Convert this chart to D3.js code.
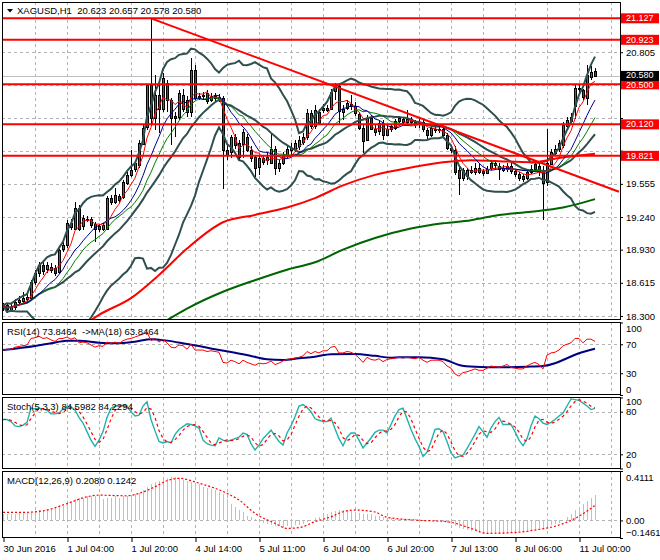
<!DOCTYPE html>
<html>
<head>
<meta charset="utf-8">
<script src="https://cdn.jsdelivr.net/npm/d3@7"></script>
<style>
  body { margin: 0; background: #fff; }
  svg { display: block; font-family: "Liberation Sans", Arial, sans-serif; font-size: 9.5px; }
  text { white-space: pre; }
</style>
</head>
<body>
<svg id="chart" width="660" height="560"></svg>
<script>
// XAGUSD H1, values
const opens = [
  18.37,18.40,18.36,18.38,18.43,18.44,18.46,18.47,18.62,18.70,
  18.78,18.74,18.77,18.76,18.72,18.93,18.97,19.18,19.13,19.33,
  19.15,19.22,19.22,19.17,19.12,19.12,19.13,19.42,19.38,19.44,
  19.43,19.56,19.64,19.69,19.73,19.94,20.09,20.49,20.18,20.40,
  20.27,20.51,20.35,20.20,20.19,20.27,20.35,20.24,20.64,20.37,
  20.39,20.42,20.35,20.39,20.37,20.37,19.88,19.86,20.00,19.94,
  19.94,20.00,19.88,19.81,19.71,19.80,19.78,19.76,19.89,19.70,
  19.75,19.83,19.88,19.88,19.91,19.95,20.00,20.23,20.11,20.24,
  20.26,20.28,20.27,20.43,20.48,20.24,20.27,20.31,20.29,20.22,
  20.09,19.97,20.18,20.08,20.05,20.13,20.02,20.07,20.08,20.15,
  20.17,20.14,20.17,20.14,20.12,20.14,20.07,20.02,20.08,20.07,
  20.08,20.02,19.90,19.88,19.69,19.61,19.63,19.67,19.67,19.71,
  19.68,19.66,19.70,19.75,19.72,19.69,19.69,19.72,19.68,19.65,
  19.63,19.61,19.67,19.74,19.72,19.69,19.57,19.75,19.85,19.88,
  19.92,20.10,20.15,20.30,20.46,20.45,20.37,20.57,20.623
];
const highs = [
  18.42,18.42,18.41,18.46,18.49,18.53,18.52,18.64,18.74,18.81,
  18.81,18.81,18.80,18.78,18.94,19.00,19.21,19.22,19.38,19.35,
  19.26,19.25,19.24,19.19,19.17,19.18,19.44,19.45,19.52,19.46,
  19.59,19.67,19.88,19.78,19.97,20.12,20.50,21.127,20.59,20.49,
  20.61,20.54,20.37,20.24,20.45,20.46,20.39,20.75,20.68,20.42,
  20.43,20.45,20.42,20.42,20.41,20.39,19.92,20.02,20.03,19.97,
  20.08,20.03,19.91,19.83,19.82,19.83,19.85,20.04,19.91,19.78,
  19.86,19.92,19.94,19.97,20.01,20.04,20.27,20.26,20.30,20.27,
  20.31,20.30,20.46,20.51,20.50,20.30,20.35,20.40,20.33,20.24,
  20.11,20.21,20.21,20.11,20.15,20.16,20.10,20.12,20.17,20.20,
  20.19,20.26,20.19,20.16,20.17,20.16,20.09,20.11,20.10,20.10,
  20.10,20.04,19.92,19.91,19.72,19.71,19.71,19.72,19.75,19.75,
  19.70,19.72,19.78,19.78,19.75,19.73,19.75,19.75,19.70,19.67,
  19.65,19.69,19.73,19.77,19.75,19.72,20.08,19.89,19.92,19.97,
  20.14,20.19,20.23,20.50,20.50,20.46,20.68,20.67,20.657
];
const lows = [
  18.35,18.33,18.34,18.36,18.40,18.41,18.43,18.45,18.59,18.67,
  18.69,18.71,18.71,18.68,18.70,18.91,18.95,19.12,19.12,19.11,
  19.12,19.19,19.14,19.00,19.10,19.11,19.12,19.35,19.36,19.37,
  19.41,19.54,19.62,19.67,19.71,19.92,20.07,20.11,20.07,20.04,
  20.24,20.24,19.92,20.00,20.16,20.24,20.19,20.19,20.35,20.35,
  20.35,20.31,20.33,20.34,20.33,19.51,19.78,19.80,19.89,19.78,
  19.80,19.86,19.76,19.62,19.64,19.73,19.73,19.74,19.64,19.67,
  19.73,19.80,19.83,19.86,19.88,19.92,19.97,20.08,20.08,20.11,
  20.23,20.24,20.26,20.35,20.11,20.16,20.26,20.26,20.20,20.07,
  19.85,19.96,20.07,20.01,20.02,19.97,20.01,20.05,20.07,20.13,
  20.12,20.12,20.11,20.09,20.09,20.05,19.97,20.00,20.04,20.04,
  19.99,19.88,19.85,19.64,19.45,19.58,19.59,19.65,19.64,19.65,
  19.63,19.65,19.69,19.70,19.59,19.67,19.67,19.65,19.62,19.58,
  19.57,19.59,19.65,19.67,19.63,19.21,19.53,19.73,19.82,19.86,
  19.90,20.07,20.12,20.17,20.43,20.35,20.30,20.54,20.578
];
const closes = [
  18.40,18.36,18.39,18.43,18.45,18.47,18.48,18.62,18.71,18.78,
  18.72,18.78,18.74,18.71,18.93,18.97,19.18,19.14,19.33,19.13,
  19.23,19.21,19.16,19.12,19.15,19.16,19.42,19.38,19.45,19.40,
  19.57,19.64,19.69,19.75,19.94,20.09,20.49,20.18,20.40,20.27,
  20.56,20.35,20.18,20.18,20.42,20.40,20.24,20.64,20.37,20.39,
  20.40,20.34,20.39,20.37,20.38,19.88,19.83,20.00,19.92,19.81,
  20.05,19.88,19.80,19.71,19.80,19.76,19.81,19.89,19.71,19.75,
  19.83,19.89,19.90,19.94,19.97,20.00,20.23,20.11,20.26,20.14,
  20.28,20.26,20.43,20.48,20.24,20.27,20.32,20.29,20.22,20.09,
  19.97,20.18,20.08,20.05,20.13,20.02,20.08,20.10,20.15,20.18,
  20.14,20.17,20.14,20.12,20.14,20.07,20.02,20.09,20.07,20.08,
  20.02,19.90,19.88,19.67,19.61,19.69,19.69,19.69,19.71,19.67,
  19.66,19.70,19.75,19.73,19.69,19.71,19.72,19.67,19.65,19.61,
  19.60,19.67,19.70,19.69,19.67,19.57,19.75,19.86,19.89,19.94,
  20.11,20.16,20.19,20.47,20.47,20.38,20.59,20.62,20.580
];

const timeLabels = ['30 Jun 2016','1 Jul 04:00','1 Jul 20:00','4 Jul 14:00','5 Jul 11:00',
  '6 Jul 04:00','6 Jul 20:00','7 Jul 13:00','8 Jul 06:00','11 Jul 00:00'];
const priceTicks = [18.300,18.615,18.930,19.240,19.555,19.870,20.180,20.490,20.805];
const levels = [21.127,20.923,20.500,20.120,19.821];
const lastPrice = 20.580;
// trend line anchors as [bar, price]
const trendStart = [37, 21.127];
const trendEnd = [154, 19.48];

// slow MAs - their history is off screen so they're read as points off the chart
const ma100Bars = [22,24,32,39,46,55,63,71,78,85,93,102,110,117,124,132,139,148];
const ma100Vals = [18.26,18.31,18.47,18.69,18.94,19.19,19.26,19.33,19.42,19.54,19.64,19.71,19.76,19.78,19.77,19.76,19.80,19.84];
const ma200Bars = [41,46,55,63,71,78,85,93,102,110,117,124,132,140,148];
const ma200Vals = [18.26,18.37,18.53,18.64,18.74,18.81,18.93,19.04,19.13,19.18,19.21,19.26,19.29,19.33,19.41];

const rsiVals = [
  62,63,63,66,67,68,69,78,79,81,
  78,79,76,74,78,78,80,77,79,72,
  73,72,69,66,68,67,73,71,73,71,
  75,77,78,80,82,84,87,75,78,73,
  77,72,66,65,69,68,63,70,62,62,
  62,60,61,60,59,45,44,48,46,43,
  48,45,43,41,44,43,44,47,42,44,
  47,49,50,51,52,54,60,57,60,58,
  61,61,66,67,58,58,60,59,56,51,
  45,52,49,48,50,46,49,50,51,52,
  51,52,51,50,52,48,45,48,48,48,
  46,40,37,29,26,31,32,34,36,34,
  34,37,40,39,38,40,42,38,37,36,
  36,40,43,45,42,36,55,58,59,62,
  68,70,72,78,78,72,77,77,73.8464
];
const rsiMaBars = [0,8,12,16,19,24,28,33,37,41,46,49,53,58,62,66,70,74,78,82,88,93,97,99,104,110,114,118,124,131,135,138,141,144,148];
const rsiMaVals = [62,67.7,71.4,75,75,72.2,71.4,73.6,76.9,75,70.4,67.7,63.1,58.4,53.9,49.3,48.3,50.7,52.9,56.2,56.6,54,51.5,52,52,49.3,41.5,39,38.3,39,40,43.8,50.7,57.6,63.8464];

const stochK = [
  69,69,66,60,59,61,65,85,84,85,
  84,82,77,77,78,84,87,87,82,72,
  64,52,40,31,40,52,72,85,88,88,
  89,87,80,74,75,88,94,69,53,38,
  36,38,36,48,55,59,63,62,60,57,
  40,35,33,32,43,40,38,40,42,44,
  50,48,35,26,33,42,48,54,46,38,
  33,50,60,73,88,90,86,80,70,68,
  66,66,71,56,42,32,44,50,50,40,
  29,36,43,51,54,54,50,62,74,83,
  85,70,55,42,31,17,23,38,55,56,
  52,38,22,15,17,19,28,38,48,59,
  52,44,57,66,72,62,62,62,52,40,
  32,42,60,74,70,64,62,65,69,74,
  78,88,98,97,96,92,88,83,84.5982
];

const macdHist = [
  0.055,0.055,0.056,0.057,0.058,0.06,0.06,0.065,0.08,0.09,
  0.09,0.095,0.095,0.10,0.11,0.12,0.14,0.16,0.18,0.19,
  0.19,0.20,0.20,0.20,0.19,0.18,0.19,0.19,0.20,0.19,
  0.20,0.20,0.21,0.22,0.23,0.25,0.28,0.30,0.32,0.33,
  0.34,0.35,0.36,0.36,0.35,0.34,0.33,0.32,0.31,0.30,
  0.28,0.27,0.26,0.25,0.24,0.22,0.18,0.14,0.11,0.09,
  0.07,0.04,0.03,0.01,0.0,-0.02,-0.03,-0.04,-0.05,-0.05,
  -0.06,-0.05,-0.05,-0.04,-0.04,-0.03,-0.01,0.0,0.02,0.03,
  0.04,0.05,0.07,0.08,0.09,0.09,0.09,0.08,0.07,0.06,
  0.05,0.05,0.05,0.04,0.04,0.03,0.02,0.02,0.01,0.01,
  0.01,0.01,0.01,0.01,0.01,0.0,0.0,0.0,0.0,0.0,
  -0.01,-0.02,-0.03,-0.05,-0.06,-0.07,-0.08,-0.09,-0.09,-0.10,
  -0.10,-0.11,-0.11,-0.11,-0.11,-0.11,-0.10,-0.10,-0.10,-0.09,
  -0.09,-0.08,-0.08,-0.07,-0.06,-0.06,-0.05,-0.04,-0.03,-0.02,
  0.0,0.03,0.05,0.09,0.11,0.14,0.16,0.19,0.2080
];
const macdSigBars = [0,5,10,16,21,24,31,34,38,41,44,49,56,59,63,68,71,74,78,82,85,88,93,96,103,111,117,121,128,133,139,143,148];
const macdSigVals = [0.067,0.067,0.08,0.14,0.197,0.21,0.205,0.225,0.28,0.33,0.35,0.31,0.225,0.17,0.059,-0.024,-0.066,-0.06,-0.01,0.03,0.072,0.086,0.07,0.026,0.003,-0.01,-0.066,-0.107,-0.10,-0.08,-0.038,0.017,0.1242];

// ---------------------------------------------------------------
const FONT = '"Liberation Sans", Arial, sans-serif';
const GRID = '#b4b4b4';
const BULL = '#1e8c3a';
const TAG_H = 10;
const n = closes.length;

const svg = d3.select('#chart');
svg.append('rect').attr('width', 660).attr('height', 560).attr('fill', '#fff');

// panel boxes (top/bottom in px), right edge is the price axis
const left = 2, right = 620;
const panels = {
  main:  { top: 2,   bottom: 320 },
  rsi:   { top: 322, bottom: 395 },
  stoch: { top: 397, bottom: 469 },
  macd:  { top: 471, bottom: 538 }
};

const x = d3.scaleLinear().domain([0, n - 1]).range([3, 3 + 4 * (n - 1)]);
const yMain = d3.scaleLinear().domain([18.262, 21.282]).range([panels.main.bottom, panels.main.top]);
const yRsi = d3.scaleLinear().domain([0, 100]).range([395, 322.5]);
const yStoch = d3.scaleLinear().domain([0, 100]).range([468.5, 397.5]);
const yMacd = d3.scaleLinear().domain([-0.1461, 0.4111]).range([538, 471]);

// simple moving average, shorter window at the start where history is missing
const sma = (vals, len) => vals.map((v, i) => d3.mean(vals.slice(Math.max(0, i - len + 1), i + 1)));
const bands = (vals, len, k) => vals.map((v, i) => {
  const win = vals.slice(Math.max(0, i - len + 1), i + 1);
  const m = d3.mean(win);
  const sd = Math.sqrt(d3.mean(win, d => (d - m) * (d - m)));
  return { mid: m, up: m + k * sd, lo: m - k * sd };
});

const defs = svg.append('defs');
Object.entries(panels).forEach(([key, p]) => {
  defs.append('clipPath').attr('id', 'clip-' + key)
    .append('rect').attr('x', left).attr('y', p.top).attr('width', right - left).attr('height', p.bottom - p.top);
});

const panelG = key => svg.append('g').attr('clip-path', 'url(#clip-' + key + ')');

// vertical grid every 8 bars, same in every panel
const gridBars = d3.range(8, 153, 8);
const drawGrid = (g, p, yScale, hVals) => {
  g.selectAll('line.vg').data(gridBars).enter().append('line')
    .attr('class', 'vg')
    .attr('x1', d => x(d) + 0.5).attr('x2', d => x(d) + 0.5)
    .attr('y1', p.top).attr('y2', p.bottom)
    .attr('stroke', GRID).attr('stroke-dasharray', '3,3').attr('shape-rendering', 'crispEdges');
  g.selectAll('line.hg').data(hVals).enter().append('line')
    .attr('class', 'hg')
    .attr('x1', left).attr('x2', right)
    .attr('y1', d => Math.round(yScale(d)) + 0.5).attr('y2', d => Math.round(yScale(d)) + 0.5)
    .attr('stroke', GRID).attr('stroke-dasharray', '3,3').attr('shape-rendering', 'crispEdges');
};

const lineOf = yScale => d3.line().x((d, i) => x(i)).y(d => yScale(d));
const curveOf = yScale => d3.line().x(d => x(d[0])).y(d => yScale(d[1])).curve(d3.curveMonotoneX);

// ---------------- main panel ----------------
const mainG = panelG('main');
drawGrid(mainG, panels.main, yMain, priceTicks);

mainG.append('line')
  .attr('x1', left).attr('x2', right)
  .attr('y1', Math.round(yMain(lastPrice)) + 0.5).attr('y2', Math.round(yMain(lastPrice)) + 0.5)
  .attr('stroke', '#c0c0c0').attr('shape-rendering', 'crispEdges');

const drawCandles = (g) => {
  const bar = g.selectAll('g.candle').data(d3.range(n)).enter().append('g').attr('class', 'candle');
  bar.append('line')
    .attr('x1', i => x(i) + 0.5).attr('x2', i => x(i) + 0.5)
    .attr('y1', i => yMain(highs[i])).attr('y2', i => yMain(lows[i]))
    .attr('stroke', '#000').attr('shape-rendering', 'crispEdges');
  bar.append('rect')
    .attr('x', i => x(i) - 0.5)
    .attr('y', i => Math.round(yMain(Math.max(opens[i], closes[i]))) + 0.5)
    .attr('width', 2)
    .attr('height', i => Math.max(1, Math.round(Math.abs(yMain(opens[i]) - yMain(closes[i])))))
    .attr('fill', i => closes[i] >= opens[i] ? BULL : '#ff0000')
    .attr('stroke', '#000').attr('stroke-width', 1)
    .attr('shape-rendering', 'crispEdges');
};
drawCandles(mainG);

// bollinger 20/2
const bb = bands(closes, 20, 2);
['up', 'mid', 'lo'].forEach(k => {
  mainG.append('path').datum(bb.map(d => d[k]))
    .attr('d', lineOf(yMain)).attr('fill', 'none')
    .attr('stroke', '#2f4f4f').attr('stroke-width', 2);
});

mainG.append('path').datum(d3.zip(ma100Bars, ma100Vals))
  .attr('d', curveOf(yMain)).attr('fill', 'none').attr('stroke', '#ff0000').attr('stroke-width', 2);
mainG.append('path').datum(d3.zip(ma200Bars, ma200Vals))
  .attr('d', curveOf(yMain)).attr('fill', 'none').attr('stroke', '#006400').attr('stroke-width', 2);

// fast MAs
[[14, '#008000'], [10, '#00008b'], [5, '#ff0000']].forEach(([len, col]) => {
  mainG.append('path').datum(sma(closes, len))
    .attr('d', lineOf(yMain)).attr('fill', 'none').attr('stroke', col).attr('stroke-width', 1);
});

// drawn objects: horizontal levels and the falling trend line
mainG.selectAll('line.level').data(levels).enter().append('line')
  .attr('class', 'level')
  .attr('x1', left).attr('x2', right)
  .attr('y1', d => yMain(d)).attr('y2', d => yMain(d))
  .attr('stroke', '#ff0000').attr('stroke-width', 2);
mainG.append('line')
  .attr('x1', x(trendStart[0])).attr('y1', yMain(trendStart[1]))
  .attr('x2', x(trendEnd[0])).attr('y2', yMain(trendEnd[1]))
  .attr('stroke', '#ff0000').attr('stroke-width', 2);

// ---------------- RSI ----------------
const rsiG = panelG('rsi');
drawGrid(rsiG, panels.rsi, yRsi, [70, 30]);
rsiG.append('path').datum(d3.zip(rsiMaBars, rsiMaVals))
  .attr('d', curveOf(yRsi)).attr('fill', 'none').attr('stroke', '#000080').attr('stroke-width', 2);
rsiG.append('path').datum(rsiVals)
  .attr('d', lineOf(yRsi)).attr('fill', 'none').attr('stroke', '#ff0000').attr('stroke-width', 1);

// ---------------- Stochastic ----------------
const stG = panelG('stoch');
drawGrid(stG, panels.stoch, yStoch, [80, 20]);
stG.append('path').datum(stochK)
  .attr('d', lineOf(yStoch)).attr('fill', 'none').attr('stroke', '#20b2aa').attr('stroke-width', 1.4);
stG.append('path').datum(sma(stochK, 3))
  .attr('d', lineOf(yStoch)).attr('fill', 'none').attr('stroke', '#ff0000')
  .attr('stroke-width', 1.2).attr('stroke-dasharray', '3,3');

// ---------------- MACD ----------------
const mG = panelG('macd');
drawGrid(mG, panels.macd, yMacd, [0]);
mG.selectAll('line.hist').data(macdHist).enter().append('line')
  .attr('class', 'hist')
  .attr('x1', (d, i) => x(i) + 0.5).attr('x2', (d, i) => x(i) + 0.5)
  .attr('y1', yMacd(0)).attr('y2', d => yMacd(d))
  .attr('stroke', '#c0c0c0').attr('shape-rendering', 'crispEdges');
mG.append('path').datum(d3.zip(macdSigBars, macdSigVals))
  .attr('d', curveOf(yMacd)).attr('fill', 'none').attr('stroke', '#ff0000')
  .attr('stroke-width', 1.2).attr('stroke-dasharray', '2,2');

// ---------------- borders ----------------
Object.values(panels).forEach(p => {
  svg.append('rect')
    .attr('x', left + 0.5).attr('y', p.top + 0.5)
    .attr('width', right - left).attr('height', p.bottom - p.top - 1)
    .attr('fill', 'none').attr('stroke', '#000').attr('shape-rendering', 'crispEdges');
});

// ---------------- axes ----------------
const styleAxis = g => {
  g.select('.domain').remove();
  g.attr('font-family', FONT).attr('font-size', 9.5);
  g.selectAll('line').attr('stroke', '#000');
  g.selectAll('text').attr('fill', '#000');
};

const rightAxis = (scale, ticks, fmt, endPad) => {
  const [lo, hi] = scale.domain();
  const g = svg.append('g').attr('transform', 'translate(' + right + ',0)')
    .call(d3.axisRight(scale).tickValues(ticks).tickFormat(fmt).tickSize(3).tickPadding(3));
  styleAxis(g);
  // end labels are pulled inside the panel like the terminal does
  g.selectAll('.tick text').attr('y', d => d === hi ? endPad[0] : d === lo ? -endPad[1] : 0);
  return g;
};

// a tick label that sits under a level tag is not readable in the terminal either
const priceFmt = d => levels.concat(lastPrice).some(v => Math.abs(yMain(v) - yMain(d)) < TAG_H * 0.75)
  ? '' : d3.format('.3f')(d);
rightAxis(yMain, priceTicks, priceFmt, [0, 0]);
rightAxis(yRsi, [100, 70, 30, 0], d3.format('d'), [6, 6]);
rightAxis(yStoch, [100, 80, 20, 0], d3.format('d'), [3.5, 4]);
rightAxis(yMacd, [0.4111, 0, -0.1461], d => d === 0 ? '0.00' : d3.format('.4f')(d), [6, 6]);

const xg = svg.append('g').attr('transform', 'translate(0,' + panels.macd.bottom + ')')
  .call(d3.axisBottom(x).tickValues(timeLabels.map((t, i) => i * 16))
    .tickFormat((d, i) => timeLabels[i]).tickSize(4).tickPadding(3));
styleAxis(xg);
xg.selectAll('.tick line').attr('transform', 'translate(0.5,0)');
xg.selectAll('.tick text').attr('text-anchor', 'start');

// price tags for the levels and the last price; nudge is for the text only
const tag = (price, fill, nudge) => {
  const g = svg.append('g').attr('transform', 'translate(' + (right + 1) + ',' + yMain(price) + ')');
  g.append('rect').attr('x', 0).attr('y', -TAG_H / 2).attr('width', 38).attr('height', TAG_H).attr('fill', fill);
  g.append('text').attr('x', 5).attr('y', nudge || 0).attr('dy', '0.34em')
    .attr('font-size', 9).attr('fill', '#fff').text(d3.format('.3f')(price));
};
levels.forEach(v => tag(v, '#ff0000', v === 20.500 ? 1 : 0));
tag(lastPrice, '#000', -1);

// ---------------- captions ----------------
svg.append('path').attr('d', 'M7,9 L13,9 L10,12.5 Z').attr('fill', '#000');
svg.append('text').attr('x', 17).attr('y', 14)
  .text('XAGUSD,H1  ' + [opens[n - 1], highs[n - 1], lows[n - 1], closes[n - 1]].map(d3.format('.3f')).join(' '));
svg.append('text').attr('x', 7).attr('y', 335)
  .text('RSI(14) ' + d3.format('.4f')(rsiVals[n - 1]) + '  ->MA(18) ' + d3.format('.4f')(rsiMaVals[rsiMaVals.length - 1]));
svg.append('text').attr('x', 7).attr('y', 410).text('Stoch(5,3,3) 84.5982 84.2294');
svg.append('text').attr('x', 7).attr('y', 484)
  .text('MACD(12,26,9) ' + d3.format('.4f')(macdHist[n - 1]) + ' ' + d3.format('.4f')(macdSigVals[macdSigVals.length - 1]));
</script>
</body>
</html>
